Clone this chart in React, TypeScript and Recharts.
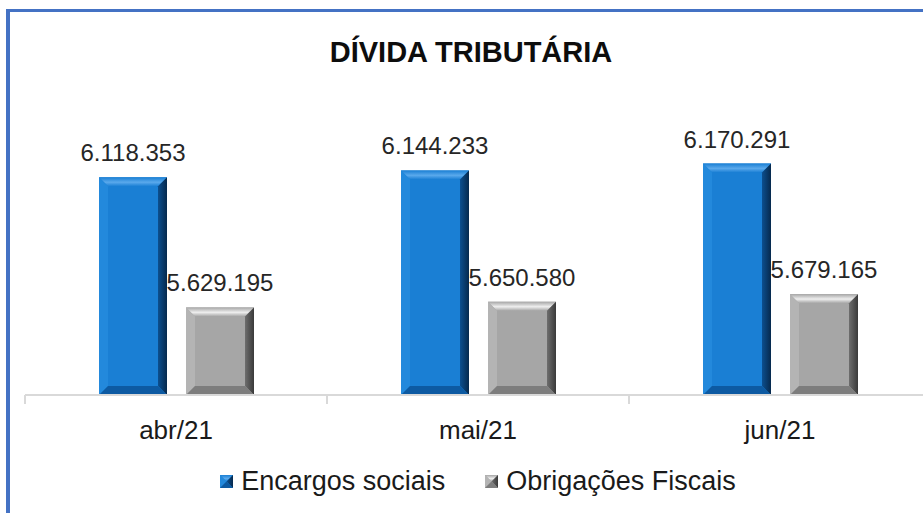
import { Bar, BarChart, LabelList, Legend, XAxis, YAxis } from 'recharts';

const months = ['abr/21', 'mai/21', 'jun/21'];
const encargosSociais = [6118353, 6144233, 6170291];
const obrigacoesFiscais = [5629195, 5650580, 5679165];
const yDomain = [5300000, 6300000];

const FONT = '"Liberation Sans", Arial, sans-serif';

type Palette = { face: string; hi: string; left: string; right: string; rightEdge: string; bottom: string };

const BLUE: Palette = {
    face: '#1a7fd4',
    hi: '#5aa9ec',
    left: '#2389dc',
    right: '#0c4f8f',
    rightEdge: '#06294d',
    bottom: '#0d5aa2',
};
const GRAY: Palette = {
    face: '#a6a6a6',
    hi: '#eeeeee',
    left: '#b4b4b4',
    right: '#6e6e6e',
    rightEdge: '#3a3a3a',
    bottom: '#7d7d7d',
};

const series = [
    { key: 'encargos', name: 'Encargos sociais', palette: BLUE },
    { key: 'obrigacoes', name: 'Obrigações Fiscais', palette: GRAY },
];

const data = months.map((month, i) => ({
    month,
    encargos: encargosSociais[i],
    obrigacoes: obrigacoesFiscais[i],
}));

const fmt = (v: number) => String(v).replace(/\B(?=(\d{3})+(?!\d))/g, '.');

function BevelRect({ x, y, w, h, p, id }: { x: number; y: number; w: number; h: number; p: Palette; id: string }) {
    if (!(w > 0) || !(h > 0)) {
        return null;
    }
    const b = Math.min(9, w / 2, h / 2);
    return (
        <g>
            <defs>
                <linearGradient id={`${id}-top`} x1="0" y1="0" x2="0" y2="1">
                    <stop offset="0%" stopColor={p.face} />
                    <stop offset="55%" stopColor={p.hi} />
                    <stop offset="100%" stopColor={p.face} />
                </linearGradient>
                <linearGradient id={`${id}-right`} x1="0" y1="0" x2="1" y2="0">
                    <stop offset="0%" stopColor={p.right} />
                    <stop offset="100%" stopColor={p.rightEdge} />
                </linearGradient>
            </defs>
            <rect x={x} y={y} width={w} height={h} fill={p.face} />
            <polygon points={`${x},${y} ${x + w},${y} ${x + w - b},${y + b} ${x + b},${y + b}`} fill={`url(#${id}-top)`} />
            <polygon points={`${x},${y} ${x + b},${y + b} ${x + b},${y + h - b} ${x},${y + h}`} fill={p.left} />
            <polygon points={`${x + w},${y} ${x + w},${y + h} ${x + w - b},${y + h - b} ${x + w - b},${y + b}`} fill={`url(#${id}-right)`} />
            <polygon points={`${x},${y + h} ${x + b},${y + h - b} ${x + w - b},${y + h - b} ${x + w},${y + h}`} fill={p.bottom} />
        </g>
    );
}

function makeShape(p: Palette, key: string) {
    return (props: any) => (
        <BevelRect x={props.x} y={props.y} w={props.width} h={props.height} p={p} id={`${key}-${props.index}`} />
    );
}

function AxisTick(props: any) {
    const { x, y, payload, index } = props;
    const half = payload?.offset ?? 151;
    return (
        <g>
            <line x1={x - half} y1={y} x2={x - half} y2={y + 9} stroke="#d9d9d9" strokeWidth={2} />
            {index === months.length - 1 ? (
                <line x1={x + half} y1={y} x2={x + half} y2={y + 9} stroke="#d9d9d9" strokeWidth={2} />
            ) : null}
            <text x={x} y={y + 44} textAnchor="middle" fontFamily={FONT} fontSize={26} fill="#1a1a1a">
                {payload.value}
            </text>
        </g>
    );
}

function LegendContent() {
    return (
        <div
            style={{
                display: 'flex',
                justifyContent: 'center',
                alignItems: 'center',
                gap: 40,
                height: 30,
                fontFamily: FONT,
                fontSize: 27,
                color: '#1a1a1a',
            }}
        >
            {series.map((s) => (
                <span key={s.key} style={{ display: 'flex', alignItems: 'center', gap: 8 }}>
                    <svg width={13} height={13}>
                        <BevelRect x={0} y={0} w={13} h={13} p={s.palette} id={`lg-${s.key}`} />
                    </svg>
                    <span>{s.name}</span>
                </span>
            ))}
        </div>
    );
}

export default function App() {
    return (
        <div style={{ position: 'absolute', left: 0, top: 0, width: 923, height: 513, overflow: 'hidden', background: '#fff' }}>
            <div
                style={{
                    position: 'absolute',
                    left: 6,
                    top: 9,
                    width: 1000,
                    height: 1000,
                    borderLeft: '4px solid #4472c4',
                    borderTop: '3px solid #4472c4',
                }}
            />
            <svg width={923} height={513} style={{ position: 'absolute', left: 0, top: 0 }}>
                <text x={471} y={62} textAnchor="middle" fontFamily={FONT} fontWeight="bold" fontSize={29} fill="#0d0d0d">
                    DÍVIDA TRIBUTÁRIA
                </text>
            </svg>
            <div style={{ position: 'absolute', left: 0, top: 0 }}>
                <BarChart
                    width={940}
                    height={513}
                    data={data}
                    margin={{ top: 129, right: 9, bottom: 17, left: 25 }}
                    barCategoryGap={74}
                    barGap={19}
                >
                    <XAxis
                        dataKey="month"
                        height={71}
                        axisLine={{ stroke: '#d9d9d9', strokeWidth: 2 }}
                        tickLine={false}
                        tickSize={0}
                        tickMargin={0}
                        tick={<AxisTick />}
                        interval={0}
                    />
                    <YAxis hide domain={yDomain} allowDataOverflow />
                    <Legend
                        verticalAlign="bottom"
                        content={<LegendContent />}
                        wrapperStyle={{ left: 25, width: 906 }}
                    />
                    {series.map((s) => (
                        <Bar
                            key={s.key}
                            dataKey={s.key}
                            name={s.name}
                            fill={s.palette.face}
                            shape={makeShape(s.palette, s.key)}
                            isAnimationActive={false}
                        >
                            <LabelList
                                dataKey={s.key}
                                position="top"
                                offset={16}
                                formatter={(v: any) => fmt(Number(v))}
                                fontFamily={FONT}
                                fontSize={24}
                                fill="#262626"
                            />
                        </Bar>
                    ))}
                </BarChart>
            </div>
        </div>
    );
}
